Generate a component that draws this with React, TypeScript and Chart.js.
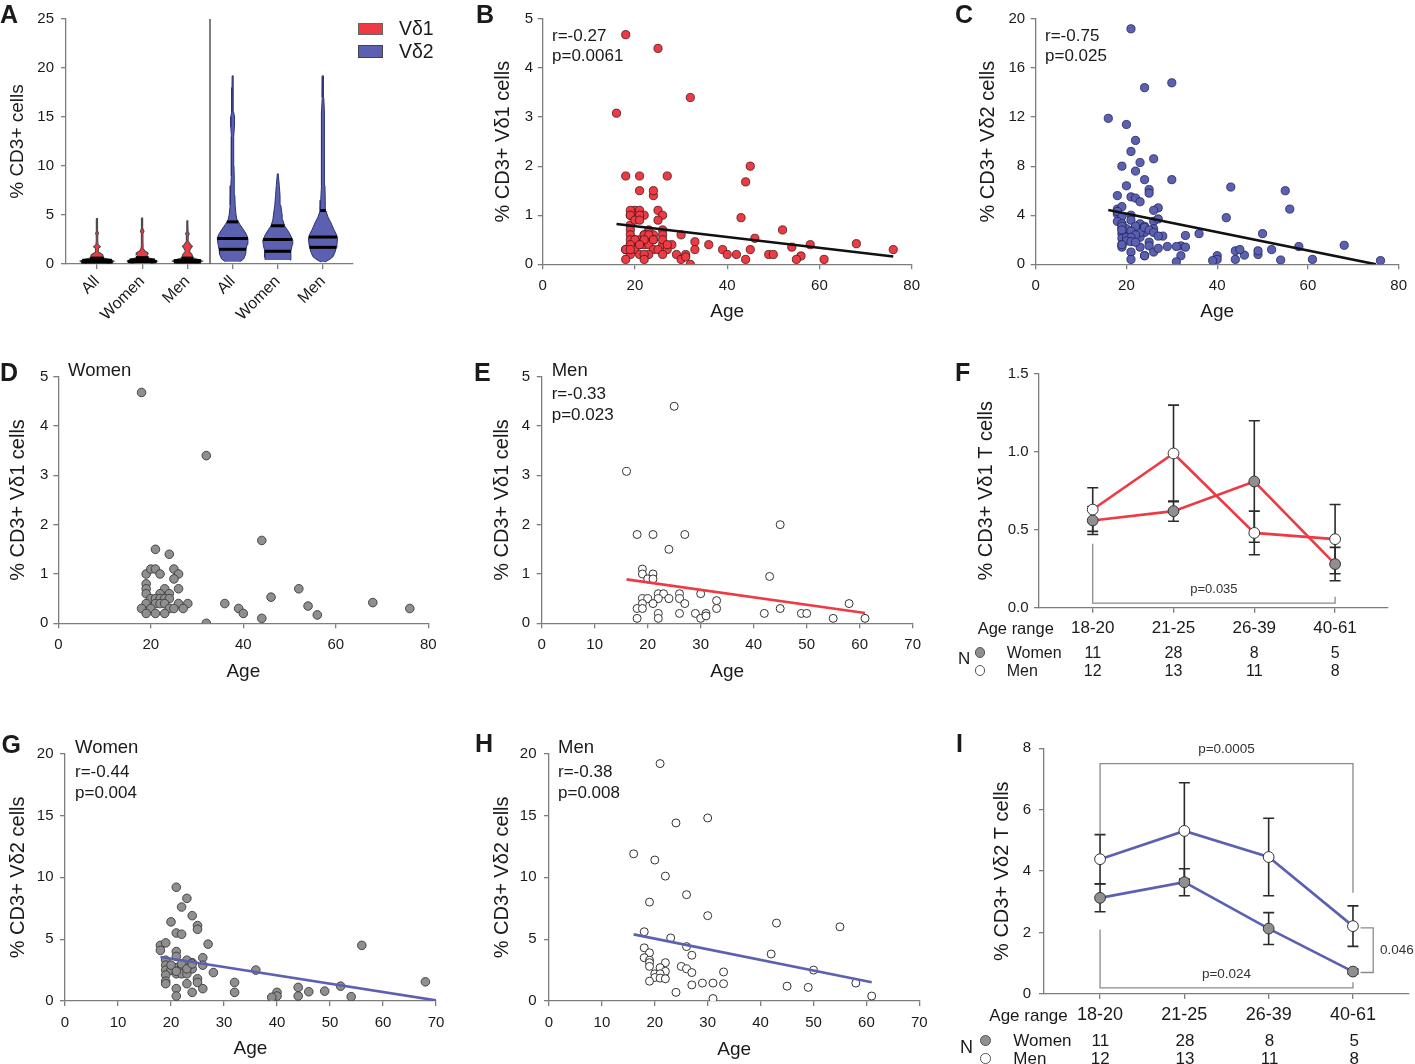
import React, { useEffect, useRef } from 'react';
import { Chart, registerables } from 'chart.js';
Chart.register(...registerables);

const FONT = '"Liberation Sans", Arial, Helvetica, sans-serif';
const TXT = '#1a1a1a';
const AXIS = '#7d7d7d';
const RED = '#ec3b45';
const BLUE = '#5b61b0';
const GRAY = '#8f8f8f';
const LINE = 1.2;

// ================= DATA =================
// Panel A – violins (levels and relative half-widths)
const violinCategories = ['All', 'Women', 'Men', 'All', 'Women', 'Men'];
const vd1AllY = [0.05, 0.15, 0.3, 0.45, 0.6, 0.7, 0.8, 0.9, 1.0, 1.2, 1.4, 1.6, 1.77, 1.95, 2.3, 3.0, 3.1, 3.3, 4.0, 4.65];
const vd1AllW = [0.67, 1, 1.13, 0.87, 0.47, 0.33, 0.4, 0.4, 0.33, 0.13, 0.08, 0.1, 0.23, 0.08, 0.05, 0.05, 0.1, 0.05, 0.04, 0.03];
const vd1WomenY = [0.02, 0.12, 0.3, 0.45, 0.6, 0.75, 0.9, 1.05, 1.15, 1.3, 1.5, 1.8, 2.5, 3.1, 3.35, 3.6, 4.68];
const vd1WomenW = [0.53, 0.87, 1, 0.8, 0.47, 0.33, 0.33, 0.4, 0.37, 0.2, 0.1, 0.06, 0.05, 0.05, 0.12, 0.05, 0.03];
const vd1MenY = [0.08, 0.18, 0.3, 0.45, 0.6, 0.75, 0.9, 1.05, 1.3, 1.6, 1.8, 2.0, 2.3, 2.8, 3.1, 3.3, 4.0, 4.4];
const vd1MenW = [0.53, 0.87, 1, 0.73, 0.4, 0.33, 0.33, 0.27, 0.13, 0.23, 0.33, 0.2, 0.07, 0.05, 0.12, 0.05, 0.03, 0.03];
const vd2AllY = [0.23, 0.5, 1.0, 1.5, 2.0, 2.6, 3.0, 3.5, 4.0, 4.5, 5.0, 6.0, 7.0, 8.0, 9.0, 10.0, 11.0, 12.0, 13.0, 14.0, 15.0, 15.5, 16.5, 18.0, 19.2];
const vd2AllW = [0.47, 0.73, 0.87, 0.9, 0.97, 1.02, 0.93, 0.73, 0.5, 0.3, 0.23, 0.17, 0.15, 0.12, 0.1, 0.09, 0.07, 0.07, 0.08, 0.12, 0.13, 0.07, 0.05, 0.04, 0.03];
const vd2WomenY = [0.4, 0.7, 1.3, 2.0, 2.4, 3.0, 3.5, 3.9, 4.5, 5.0, 6.0, 7.0, 8.0, 9.2];
const vd2WomenW = [0.83, 0.87, 0.87, 0.97, 1, 0.83, 0.63, 0.45, 0.33, 0.29, 0.2, 0.15, 0.1, 0.03];
const vd2MenY = [0.2, 0.5, 0.75, 1.2, 1.7, 2.0, 2.6, 3.0, 3.5, 4.2, 4.8, 5.45, 6.5, 8.0, 10.0, 12.0, 13.0, 14.5, 15.5, 17.0, 19.2];
const vd2MenW = [0.13, 0.47, 0.67, 0.8, 0.89, 0.93, 0.97, 0.9, 0.73, 0.53, 0.33, 0.19, 0.15, 0.13, 0.1, 0.07, 0.08, 0.13, 0.1, 0.05, 0.03];
const vd1AllQ = [0.2, 0.38, 0.6];
const vd1WomenQ = [0.25, 0.42, 0.65];
const vd1MenQ = [0.2, 0.35, 0.6];
const vd2AllQ = [1.5, 2.6, 4.3];
const vd2WomenQ = [1.3, 2.5, 3.9];
const vd2MenQ = [1.7, 2.75, 5.45];

// Panels B/D/E – Vδ1 vs age
const womenV1Age = [18, 32, 44, 21, 24, 19, 20, 21, 22, 25, 26, 25, 19, 19, 26, 19, 23, 22, 24, 20, 21, 22, 23, 24, 19, 21, 22, 23, 26, 28, 18, 20, 24, 25, 27, 19, 21, 23, 32, 36, 39, 40, 44, 46, 52, 54, 56, 68, 76];
const womenV1Val = [4.68, 3.4, 1.68, 1.5, 1.4, 1.0, 1.1, 1.1, 1.0, 1.1, 1.0, 0.9, 0.8, 0.7, 0.7, 0.6, 0.7, 0.6, 0.6, 0.5, 0.5, 0.5, 0.5, 0.5, 0.4, 0.4, 0.4, 0.4, 0.4, 0.4, 0.3, 0.3, 0.3, 0.3, 0.3, 0.2, 0.2, 0.2, 0.0, 0.4, 0.3, 0.2, 0.1, 0.53, 0.7, 0.35, 0.17, 0.42, 0.3];
const menV1Age = [25, 16, 45, 18, 21, 27, 24, 43, 19, 19, 21, 20, 21, 22, 23, 26, 30, 19, 20, 22, 24, 26, 33, 19, 21, 27, 58, 18, 19, 33, 45, 22, 26, 29, 31, 42, 49, 50, 18, 22, 30, 31, 55, 61];
const menV1Val = [4.4, 3.08, 2.0, 1.8, 1.8, 1.8, 1.5, 0.95, 1.1, 1.0, 1.0, 0.9, 0.9, 0.6, 0.6, 0.6, 0.6, 0.5, 0.5, 0.5, 0.5, 0.5, 0.46, 0.4, 0.4, 0.4, 0.4, 0.3, 0.3, 0.3, 0.3, 0.2, 0.2, 0.2, 0.2, 0.2, 0.2, 0.2, 0.1, 0.1, 0.1, 0.15, 0.1, 0.1];

// Panels C/G/H – Vδ2 vs age
const womenV2Age = [21, 23, 22, 24, 20, 25, 25, 21, 22, 56, 27, 18, 19, 18, 21, 19, 21, 23, 24, 19, 21, 22, 26, 26, 24, 19, 20, 36, 22, 28, 19, 21, 22, 23, 25, 19, 19, 23, 25, 32, 68, 52, 44, 21, 26, 49, 46, 32, 40, 24, 21, 40, 44, 39, 54, 20, 22, 23, 21, 24, 76];
const womenV2Val = [9.2, 8.3, 7.6, 6.9, 6.4, 6.1, 5.8, 5.5, 5.4, 4.5, 4.6, 4.5, 4.7, 4.1, 4.0, 3.3, 3.6, 3.3, 3.1, 2.9, 2.7, 2.7, 3.5, 2.9, 2.6, 2.5, 2.5, 2.5, 2.45, 2.3, 2.1, 2.2, 2.2, 2.2, 1.8, 1.6, 1.4, 1.4, 1.5, 1.5, 1.55, 1.2, 1.1, 1.0, 1.0, 0.8, 0.75, 0.7, 0.7, 0.7, 0.4, 0.4, 0.4, 0.3, 0.35, 2.9, 3.0, 2.6, 2.4, 3.0, 0.3];
const menV2Age = [21, 30, 24, 16, 20, 22, 26, 19, 30, 43, 55, 18, 23, 26, 18, 42, 19, 27, 18, 19, 19, 22, 19, 21, 25, 26, 22, 27, 33, 50, 20, 21, 20, 21, 22, 19, 29, 31, 33, 58, 27, 45, 49, 24, 31, 61];
const menV2Val = [19.2, 14.8, 14.4, 11.9, 11.4, 10.1, 8.6, 8.0, 6.9, 6.3, 6.0, 5.6, 5.1, 4.4, 4.3, 3.8, 3.9, 3.7, 3.5, 3.3, 3.1, 3.1, 2.8, 2.7, 2.8, 2.6, 2.4, 2.3, 2.35, 2.5, 2.2, 2.2, 1.9, 1.85, 1.8, 1.6, 1.45, 1.45, 1.4, 1.45, 1.3, 1.2, 1.1, 0.7, 0.2, 0.4];

// Regression lines (endpoints as read)
const fitBAge = [16, 76];
const fitBVal = [0.82, 0.16];
const fitCAge = [16, 75];
const fitCVal = [4.42, 0];
const fitEAge = [16, 61];
const fitEVal = [0.89, 0.21];
const fitGAge = [18, 70];
const fitGVal = [3.56, 0.05];
const fitHAge = [16, 61];
const fitHVal = [5.39, 1.51];

// Panels F / I – age ranges
const ageRanges = ['18-20', '21-25', '26-39', '40-61'];
const nWomen = [11, 28, 8, 5];
const nMen = [12, 13, 11, 8];
const fWomenMean = [0.56, 0.62, 0.81, 0.28];
const fWomenSem = [0.09, 0.065, 0.39, 0.107];
const fMenMean = [0.63, 0.99, 0.48, 0.44];
const fMenSem = [0.14, 0.31, 0.14, 0.222];
const iWomenMean = [3.13, 3.64, 2.13, 0.73];
const iWomenSem = [0.45, 0.44, 0.52, 0.08];
const iMenMean = [4.39, 5.31, 4.46, 2.21];
const iMenSem = [0.8, 1.57, 1.26, 0.66];

// ================= HELPERS =================
type Box = { left: number; top: number; width: number; height: number };
type Area = { left: number; top: number; right: number; bottom: number };
type Geo = { box: Box; area: Area };

const GEO: Record<string, Geo> = {
  A: { box: { left: 0, top: 0, width: 460, height: 345 }, area: { left: 66, top: 19, right: 353, bottom: 264 } },
  B: { box: { left: 460, top: 0, width: 480, height: 345 }, area: { left: 542.7, top: 19, right: 911.7, bottom: 264.3 } },
  C: { box: { left: 940, top: 0, width: 475, height: 345 }, area: { left: 1035.7, top: 19, right: 1404.3, bottom: 264.3 } },
  D: { box: { left: 0, top: 345, width: 460, height: 370 }, area: { left: 58.3, top: 376.7, right: 428.3, bottom: 623.3 } },
  E: { box: { left: 460, top: 345, width: 480, height: 370 }, area: { left: 541.7, top: 376.7, right: 912.7, bottom: 623.3 } },
  F: { box: { left: 940, top: 345, width: 475, height: 370 }, area: { left: 1039, top: 374, right: 1388, bottom: 607.7 } },
  G: { box: { left: 0, top: 715, width: 460, height: 349 }, area: { left: 65, top: 753.7, right: 436, bottom: 1001 } },
  H: { box: { left: 460, top: 715, width: 480, height: 349 }, area: { left: 549, top: 753.7, right: 919.3, bottom: 1001 } },
  I: { box: { left: 940, top: 715, width: 475, height: 349 }, area: { left: 1044, top: 748.3, right: 1410, bottom: 994 } },
};

const fnt = (size: number, weight: string = 'normal') => ({ family: FONT, size, weight, lineHeight: LINE });

interface AxisSpec {
  min: number;
  max: number;
  ticks?: number[];
  step?: number;
  label?: (v: number) => string;
  title?: string;
  titleCenter?: number;
  titleSize?: number;
  tickSize?: number;
  rotate?: number;
  tickPad?: number;
}

function makeOptions(g: Geo, xs: AxisSpec, ys: AxisSpec) {
  const { box, area } = g;
  const common = {
    type: 'linear',
    border: { display: true, color: AXIS, width: 1.3 },
    grid: { display: true, drawOnChartArea: false, drawTicks: true, tickLength: 5, color: AXIS, lineWidth: 1.3 },
  };
  const xts = xs.titleSize ?? 19;
  const yts = ys.titleSize ?? 20;
  return {
    responsive: false,
    maintainAspectRatio: false,
    animation: false,
    events: [],
    layout: { padding: { left: 0, top: area.top - box.top, right: box.left + box.width - area.right, bottom: 0 } },
    plugins: { legend: { display: false }, tooltip: { enabled: false } },
    scales: {
      x: {
        ...common,
        position: 'bottom',
        min: xs.min,
        max: xs.max,
        afterFit: (s: any) => { s.height = box.top + box.height - area.bottom; },
        afterBuildTicks: (s: any) => { if (xs.ticks) s.ticks = xs.ticks.map((v) => ({ value: v })); },
        ticks: {
          color: TXT, font: fnt(xs.tickSize ?? 15), padding: xs.tickPad ?? 8, autoSkip: false,
          maxRotation: xs.rotate ?? 0, minRotation: xs.rotate ?? 0, stepSize: xs.step,
          callback: (v: any) => (xs.label ? xs.label(Number(v)) : String(v)),
        },
        title: xs.title
          ? { display: true, text: xs.title, color: TXT, font: fnt(xts), padding: { top: 0, bottom: box.top + box.height - (xts * LINE) / 2 - (xs.titleCenter as number) } }
          : { display: false },
      },
      y: {
        ...common,
        position: 'left',
        min: ys.min,
        max: ys.max,
        afterFit: (s: any) => { s.width = area.left - box.left; },
        afterBuildTicks: (s: any) => { if (ys.ticks) s.ticks = ys.ticks.map((v) => ({ value: v })); },
        ticks: {
          color: TXT, font: fnt(ys.tickSize ?? 15), padding: ys.tickPad ?? 5, autoSkip: false, stepSize: ys.step,
          callback: (v: any) => (ys.label ? ys.label(Number(v)) : String(v)),
        },
        title: ys.title
          ? { display: true, text: ys.title, color: TXT, font: fnt(yts), padding: { top: (ys.titleCenter as number) - box.left - (yts * LINE) / 2, bottom: 0 } }
          : { display: false },
      },
    },
  };
}

const pts = (xs: number[], ys: number[]) => xs.map((x, i) => ({ x, y: ys[i] }));

function scatterDs(data: any[], fill: string, border: string, r = 4.2, bw = 0.9) {
  return { data, showLine: false, pointRadius: r, pointBackgroundColor: fill, pointBorderColor: border, pointBorderWidth: bw };
}
function lineDs(data: any[], color: string, width: number) {
  return { data, showLine: true, borderColor: color, borderWidth: width, pointRadius: 0, fill: false, tension: 0 };
}

const VW = 0.332; // half width of a relative width of 1, in category units
function violinDs(center: number, levels: number[], widths: number[], fill: string, border: string, bw: number) {
  const right = levels.map((y, i) => ({ x: center + widths[i] * VW, y }));
  const left = levels.map((y, i) => ({ x: center - widths[i] * VW, y })).reverse();
  return { data: [...right, ...left], showLine: true, fill: 'shape', backgroundColor: fill, borderColor: border, borderWidth: bw, pointRadius: 0, tension: 0 };
}
function widthAt(levels: number[], widths: number[], q: number) {
  if (q <= levels[0]) return widths[0];
  for (let i = 1; i < levels.length; i++) {
    if (q <= levels[i]) {
      const t = (q - levels[i - 1]) / (levels[i] - levels[i - 1]);
      return widths[i - 1] + t * (widths[i] - widths[i - 1]);
    }
  }
  return widths[widths.length - 1];
}
function quartileDs(center: number, levels: number[], widths: number[], qs: number[]) {
  return qs.map((q) => {
    const w = widthAt(levels, widths, q) * VW;
    return lineDs([{ x: center - w, y: q }, { x: center + w, y: q }], '#000', 3);
  });
}

type ErrSpec = { x: number[]; mean: number[]; sem: number[] };
type TxtSpec = { x: number; y: number; t: string; size: number; align?: CanvasTextAlign };
function extrasPlugin(bars: ErrSpec[], texts: TxtSpec[]) {
  return {
    id: 'extras',
    beforeDatasetsDraw(chart: any) {
      const { ctx } = chart;
      const xs = chart.scales.x;
      const ys = chart.scales.y;
      ctx.save();
      ctx.strokeStyle = '#2b2b2b';
      ctx.lineWidth = 1.6;
      bars.forEach((b) => {
        b.x.forEach((xv, i) => {
          const px = xs.getPixelForValue(xv);
          const hi = ys.getPixelForValue(b.mean[i] + b.sem[i]);
          const lo = ys.getPixelForValue(b.mean[i] - b.sem[i]);
          ctx.beginPath();
          ctx.moveTo(px, hi); ctx.lineTo(px, lo);
          ctx.moveTo(px - 5.5, hi); ctx.lineTo(px + 5.5, hi);
          ctx.moveTo(px - 5.5, lo); ctx.lineTo(px + 5.5, lo);
          ctx.stroke();
        });
      });
      ctx.restore();
    },
    afterDatasetsDraw(chart: any) {
      const { ctx } = chart;
      const xs = chart.scales.x;
      const ys = chart.scales.y;
      ctx.save();
      ctx.fillStyle = '#333';
      ctx.textBaseline = 'middle';
      texts.forEach((t) => {
        ctx.font = `${t.size}px ${FONT}`;
        ctx.textAlign = t.align ?? 'center';
        ctx.fillText(t.t, xs.getPixelForValue(t.x), ys.getPixelForValue(t.y));
      });
      ctx.restore();
    },
  };
}

// ================= CHART CONFIGS =================
const catLabel = (arr: string[]) => (v: number) => arr[Math.round(v)] ?? '';

function configA() {
  const g = GEO.A;
  const datasets: any[] = [
    ...quartileDs(0, vd1AllY, vd1AllW, vd1AllQ),
    ...quartileDs(1, vd1WomenY, vd1WomenW, vd1WomenQ),
    ...quartileDs(2, vd1MenY, vd1MenW, vd1MenQ),
    ...quartileDs(3, vd2AllY, vd2AllW, vd2AllQ),
    ...quartileDs(4, vd2WomenY, vd2WomenW, vd2WomenQ),
    ...quartileDs(5, vd2MenY, vd2MenW, vd2MenQ),
    violinDs(0, vd1AllY, vd1AllW, RED, '#4a4a4a', 1.1),
    violinDs(1, vd1WomenY, vd1WomenW, RED, '#4a4a4a', 1.1),
    violinDs(2, vd1MenY, vd1MenW, RED, '#4a4a4a', 1.1),
    violinDs(3, vd2AllY, vd2AllW, BLUE, '#2c3173', 1),
    violinDs(4, vd2WomenY, vd2WomenW, BLUE, '#2c3173', 1),
    violinDs(5, vd2MenY, vd2MenW, BLUE, '#2c3173', 1),
    lineDs([{ x: 2.5, y: 0 }, { x: 2.5, y: 25 }], '#555', 1.5),
  ];
  return {
    type: 'scatter',
    data: { datasets },
    options: makeOptions(
      g,
      { min: -0.686, max: 5.664, ticks: [0, 1, 2, 3, 4, 5], label: catLabel(violinCategories), rotate: 45, tickSize: 16, tickPad: 3 },
      { min: 0, max: 25, step: 5, title: '% CD3+ cells', titleCenter: 18, titleSize: 19, tickPad: 7 },
    ),
  };
}

function scatterConfig(g: Geo, datasets: any[], xs: AxisSpec, ys: AxisSpec) {
  return { type: 'scatter', data: { datasets }, options: makeOptions(g, xs, ys) };
}

function configB() {
  return scatterConfig(GEO.B, [
    lineDs(pts(fitBAge, fitBVal), '#111', 2.6),
    scatterDs(pts(womenV1Age.concat(menV1Age), womenV1Val.concat(menV1Val)), RED, '#4a1416', 4.1, 0.8),
  ], { min: 0, max: 80, step: 20, title: 'Age', titleCenter: 312 }, { min: 0, max: 5, step: 1, title: '% CD3+ Vδ1 cells', titleCenter: 503, tickPad: 4.5 });
}
function configC() {
  return scatterConfig(GEO.C, [
    lineDs(pts(fitCAge, fitCVal), '#111', 2.6),
    scatterDs(pts(womenV2Age.concat(menV2Age), womenV2Val.concat(menV2Val)), BLUE, '#1f2358', 4.1, 0.8),
  ], { min: 0, max: 80, step: 20, title: 'Age', titleCenter: 312 }, { min: 0, max: 20, step: 4, title: '% CD3+ Vδ2 cells', titleCenter: 988, tickPad: 5.5 });
}
function configD() {
  return scatterConfig(GEO.D, [
    scatterDs(pts(womenV1Age, womenV1Val), GRAY, '#3a3a3a', 4.3, 0.9),
  ], { min: 0, max: 80, step: 20, title: 'Age', titleCenter: 671.7 }, { min: 0, max: 5, step: 1, title: '% CD3+ Vδ1 cells', titleCenter: 18, tickPad: 5 });
}
function configE() {
  return scatterConfig(GEO.E, [
    lineDs(pts(fitEAge, fitEVal), RED, 2.6),
    scatterDs(pts(menV1Age, menV1Val), '#fff', '#333', 4.0, 1),
  ], { min: 0, max: 70, step: 10, title: 'Age', titleCenter: 671.7 }, { min: 0, max: 5, step: 1, title: '% CD3+ Vδ1 cells', titleCenter: 502.7, tickPad: 6.5 });
}
function configG() {
  return scatterConfig(GEO.G, [
    lineDs(pts(fitGAge, fitGVal), BLUE, 2.6),
    scatterDs(pts(womenV2Age, womenV2Val), GRAY, '#3a3a3a', 4.3, 0.9),
  ], { min: 0, max: 70, step: 10, title: 'Age', titleCenter: 1048.3 }, { min: 0, max: 20, step: 5, title: '% CD3+ Vδ2 cells', titleCenter: 18.3, tickPad: 6.5 });
}
function configH() {
  return scatterConfig(GEO.H, [
    lineDs(pts(fitHAge, fitHVal), BLUE, 2.6),
    scatterDs(pts(menV2Age, menV2Val), '#fff', '#333', 4.0, 1),
  ], { min: 0, max: 70, step: 10, title: 'Age', titleCenter: 1050 }, { min: 0, max: 20, step: 5, title: '% CD3+ Vδ2 cells', titleCenter: 502.7, tickPad: 7.5 });
}

const idx = ageRanges.map((_, i) => i);
function groupDs(means: number[], color: string, fill: string) {
  return {
    data: pts(idx, means), showLine: true, borderColor: color, borderWidth: 2.6, tension: 0,
    pointRadius: 5.4, pointBackgroundColor: fill, pointBorderColor: '#333', pointBorderWidth: 1,
  };
}

function configF() {
  const cfg: any = scatterConfig(GEO.F, [
    groupDs(fMenMean, RED, '#fff'),
    groupDs(fWomenMean, RED, GRAY),
    lineDs([{ x: 0, y: 0.41 }, { x: 0, y: 0.03 }, { x: 3, y: 0.03 }, { x: 3, y: 0.07 }], '#8a8a8a', 1.3),
  ], { min: -0.665, max: 3.655, ticks: [0, 1, 2, 3], label: catLabel(ageRanges), tickSize: 17, tickPad: 5.5 },
     { min: 0, max: 1.5, step: 0.5, label: (v) => v.toFixed(1), title: '% CD3+ Vδ1 T cells', titleCenter: 986.7, tickPad: 5.5 });
  cfg.plugins = [extrasPlugin(
    [{ x: idx, mean: fWomenMean, sem: fWomenSem }, { x: idx, mean: fMenMean, sem: fMenSem }],
    [{ x: 1.5, y: 0.12, t: 'p=0.035', size: 13 }],
  )];
  return cfg;
}
function configI() {
  const cfg: any = scatterConfig(GEO.I, [
    groupDs(iMenMean, BLUE, '#fff'),
    groupDs(iWomenMean, BLUE, GRAY),
    lineDs([{ x: 0, y: 5.2 }, { x: 0, y: 7.5 }, { x: 3, y: 7.5 }, { x: 3, y: 3.3 }], '#8a8a8a', 1.3),
    lineDs([{ x: 0, y: 2.1 }, { x: 0, y: 0.2 }, { x: 3, y: 0.2 }, { x: 3, y: 0.38 }], '#8a8a8a', 1.3),
    lineDs([{ x: 3.09, y: 2.15 }, { x: 3.24, y: 2.15 }, { x: 3.24, y: 0.7 }, { x: 3.09, y: 0.7 }], '#8a8a8a', 1.3),
  ], { min: -0.665, max: 3.66, ticks: [0, 1, 2, 3], label: catLabel(ageRanges), tickSize: 18, tickPad: 5.5 },
     { min: 0, max: 8, step: 2, title: '% CD3+ Vδ2 T cells', titleCenter: 1002, tickPad: 8 });
  cfg.plugins = [extrasPlugin(
    [{ x: idx, mean: iWomenMean, sem: iWomenSem }, { x: idx, mean: iMenMean, sem: iMenSem }],
    [
      { x: 1.5, y: 7.98, t: 'p=0.0005', size: 13.5 },
      { x: 1.5, y: 0.65, t: 'p=0.024', size: 13.5 },
      { x: 3.32, y: 1.41, t: '0.046', size: 13.5, align: 'left' },
    ],
  )];
  return cfg;
}

// ================= COMPONENTS =================
function ChartCanvas({ geo, build }: { geo: Geo; build: () => any }) {
  const ref = useRef<HTMLCanvasElement>(null);
  useEffect(() => {
    const chart = new Chart(ref.current as HTMLCanvasElement, build());
    return () => chart.destroy();
  }, []);
  const { box } = geo;
  return (
    <canvas
      ref={ref}
      width={box.width}
      height={box.height}
      style={{ position: 'absolute', left: box.left, top: box.top, width: box.width, height: box.height }}
    />
  );
}

function Txt({ t, x, y, size, bold, center }: { t: string; x: number; y: number; size: number; bold?: boolean; center?: boolean }) {
  return (
    <div
      style={{
        position: 'absolute', left: x, top: y, transform: `translate(${center ? '-50%' : '0'}, -50%)`,
        fontFamily: FONT, fontSize: size, fontWeight: bold ? 700 : 400, lineHeight: 1, whiteSpace: 'nowrap', color: TXT,
      }}
    >
      {t}
    </div>
  );
}

function Dot({ x, y, fill }: { x: number; y: number; fill: string }) {
  return (
    <div style={{ position: 'absolute', left: x - 5, top: y - 5, width: 8.5, height: 8.5, borderRadius: '50%', background: fill, border: '1px solid #555' }} />
  );
}

function catPixel(g: Geo, min: number, max: number, i: number) {
  return g.area.left + ((i - min) / (max - min)) * (g.area.right - g.area.left);
}

export default function App() {
  const letters = [
    { t: 'A', x: 0, y: 14 }, { t: 'B', x: 476, y: 14 }, { t: 'C', x: 955, y: 14 },
    { t: 'D', x: 0, y: 371.5 }, { t: 'E', x: 474, y: 371.5 }, { t: 'F', x: 955, y: 372 },
    { t: 'G', x: 1.5, y: 744 }, { t: 'H', x: 475, y: 743 }, { t: 'I', x: 956, y: 743 },
  ];
  const notes = [
    { t: 'r=-0.27', x: 552, y: 35, size: 17 }, { t: 'p=0.0061', x: 552, y: 55, size: 17 },
    { t: 'r=-0.75', x: 1045, y: 35, size: 17 }, { t: 'p=0.025', x: 1045, y: 55, size: 17 },
    { t: 'Women', x: 68, y: 370, size: 18.5 },
    { t: 'Men', x: 551.7, y: 370, size: 18.5 }, { t: 'r=-0.33', x: 551.7, y: 393.3, size: 17 }, { t: 'p=0.023', x: 551.7, y: 414, size: 17 },
    { t: 'Women', x: 75, y: 747.3, size: 18.5 }, { t: 'r=-0.44', x: 75, y: 770.7, size: 17 }, { t: 'p=0.004', x: 75, y: 791.7, size: 17 },
    { t: 'Men', x: 558, y: 747.3, size: 18.5 }, { t: 'r=-0.38', x: 558, y: 770.7, size: 17 }, { t: 'p=0.008', x: 558, y: 791.7, size: 17 },
  ];
  const fX = idx.map((i) => catPixel(GEO.F, -0.665, 3.655, i));
  const iX = idx.map((i) => catPixel(GEO.I, -0.665, 3.66, i));

  return (
    <div style={{ position: 'fixed', left: 0, top: 0, width: 1415, height: 1064, overflow: 'hidden', background: '#fff' }}>
      <ChartCanvas geo={GEO.A} build={configA} />
      <ChartCanvas geo={GEO.B} build={configB} />
      <ChartCanvas geo={GEO.C} build={configC} />
      <ChartCanvas geo={GEO.D} build={configD} />
      <ChartCanvas geo={GEO.E} build={configE} />
      <ChartCanvas geo={GEO.F} build={configF} />
      <ChartCanvas geo={GEO.G} build={configG} />
      <ChartCanvas geo={GEO.H} build={configH} />
      <ChartCanvas geo={GEO.I} build={configI} />

      {letters.map((l) => <Txt key={l.t} t={l.t} x={l.x} y={l.y} size={25} bold />)}
      {notes.map((n, i) => <Txt key={'n' + i} t={n.t} x={n.x} y={n.y} size={n.size} />)}

      {/* Legend of panel A */}
      <div style={{ position: 'absolute', left: 358, top: 23, width: 25, height: 12, background: RED, border: '0.5px solid #666', boxSizing: 'border-box' }} />
      <div style={{ position: 'absolute', left: 358, top: 45, width: 25, height: 13, background: BLUE, border: '0.5px solid #444', boxSizing: 'border-box' }} />
      <Txt t="Vδ1" x={399} y={29} size={19.5} />
      <Txt t="Vδ2" x={399} y={52} size={19.5} />

      {/* Panel F table */}
      <Txt t="Age range" x={977.7} y={628} size={16.5} />
      <Txt t="N" x={958} y={658.3} size={17} />
      <Dot x={979.7} y={652} fill={GRAY} />
      <Dot x={979.7} y={670} fill="#fff" />
      <Txt t="Women" x={1006.7} y={652.7} size={16} />
      <Txt t="Men" x={1006.7} y={670.7} size={16} />
      {nWomen.map((n, i) => <Txt key={'fw' + i} t={String(n)} x={fX[i]} y={652.7} size={16} center />)}
      {nMen.map((n, i) => <Txt key={'fm' + i} t={String(n)} x={fX[i]} y={670.7} size={16} center />)}

      {/* Panel I table */}
      <Txt t="Age range" x={989.3} y={1015} size={17} />
      <Txt t="N" x={960} y={1046.7} size={18} />
      <Dot x={985} y={1040} fill={GRAY} />
      <Dot x={985} y={1058} fill="#fff" />
      <Txt t="Women" x={1013.3} y={1040} size={17} />
      <Txt t="Men" x={1013.3} y={1058} size={17} />
      {nWomen.map((n, i) => <Txt key={'iw' + i} t={String(n)} x={iX[i]} y={1040} size={17} center />)}
      {nMen.map((n, i) => <Txt key={'im' + i} t={String(n)} x={iX[i]} y={1058} size={17} center />)}
    </div>
  );
}
